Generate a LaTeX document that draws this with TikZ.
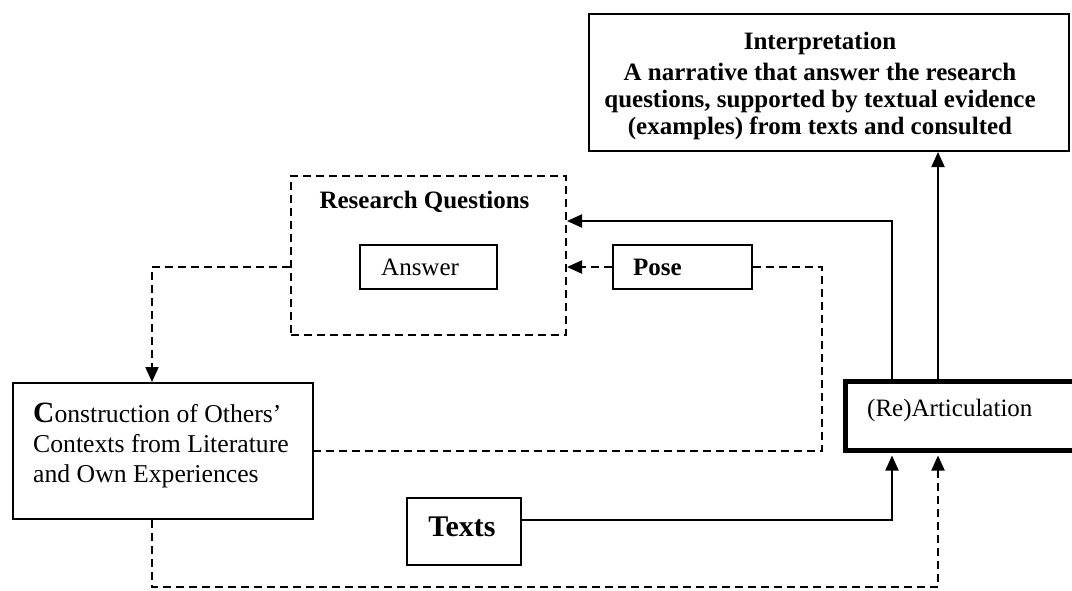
\documentclass[tikz,border=0pt]{standalone}
\usepackage{fontspec}
\setmainfont{Liberation Serif}
\usetikzlibrary{arrows.meta}
\begin{document}
\begin{tikzpicture}[x=1pt,y=-1pt,
  box/.style={draw,line width=2pt,inner sep=0pt},
  dbox/.style={box,dash pattern=on 8pt off 5pt},
  label/.style={inner sep=0pt,font=\fontsize{25}{28}\selectfont},
  conn/.style={line width=2pt,-{Triangle[length=15pt,width=13pt]}},
  dconn/.style={conn,dash pattern=on 8pt off 5pt},
  dline/.style={line width=2pt,dash pattern=on 8pt off 5pt}]
\useasboundingbox (0,0) rectangle (1072,590);
\clip (0,0) rectangle (1072,590);

% boxes
\node[box,minimum width=480pt,minimum height=137pt] (interp) at (829,82.5) {};
\node[label,align=center,font=\fontsize{25}{27}\selectfont\bfseries] (interptxt) at (820,86)
  {Interpretation\\[4pt]A narrative that answer the research\\questions, supported by textual evidence\\(examples) from texts and consulted};

\node[dbox,minimum width=275pt,minimum height=159pt] (rq) at (428.5,255.5) {};
\node[label,font=\fontsize{25}{28}\selectfont\bfseries] (rqtxt) at (424.5,202) {Research Questions};

\node[box,minimum width=137pt,minimum height=44pt] (answer) at (428.5,267) {};
\node[label,anchor=west] (answertxt) at (381,267) {Answer};

\node[box,minimum width=139pt,minimum height=44pt] (pose) at (682.5,267) {};
\node[label,anchor=west,font=\fontsize{25}{28}\selectfont\bfseries] (posetxt) at (633,267) {Pose};

\node[box,minimum width=300pt,minimum height=136pt] (constr) at (163,451) {};
\node[label,anchor=west,align=left,font=\fontsize{25.7}{30}\selectfont] (constrtxt) at (33,445.5)
  {{\bfseries\fontsize{29.5}{30}\selectfont C}onstruction of Others'\\Contexts from Literature\\and Own Experiences};

\node[box,minimum width=114pt,minimum height=67pt] (texts) at (464,531.5) {};
\node[label,font=\fontsize{30}{32}\selectfont\bfseries] (textstxt) at (462,527) {Texts};

\node[box,line width=5pt,minimum width=234.5pt,minimum height=69pt] (reart) at (962.75,416) {};
\node[label,anchor=west] (reartxt) at (867,410) {(Re)Articulation};

% columns and rows the connectors run along
\coordinate (colL) at (892,0);
\coordinate (colR) at (938,0);
\coordinate (colC) at (152,0);
\coordinate (colP) at (822,451);
\coordinate (rowQ) at (0,221);
\coordinate (rowT) at (0,520);
\coordinate (rowB) at (938,587);

% connectors
\draw[conn] (reart.north -| colR) -- (interp.south -| colR);
\draw[conn] (reart.north -| colL) |- (rq.east |- rowQ);
\draw[dconn] (pose.west) -- (rq.east |- pose.west);
\draw[dline] (pose.east) -| (colP) -- (constr.east);
\draw[dconn] (rq.west |- pose.west) -| (constr.north -| colC);
\draw[dconn,shorten >=2.5pt] (constr.south -| colC) |- (rowB) -- (reart.south -| colR);
\draw[conn,shorten >=2.5pt] (texts.east |- rowT) -| (reart.south -| colL);
\end{tikzpicture}
\end{document}
